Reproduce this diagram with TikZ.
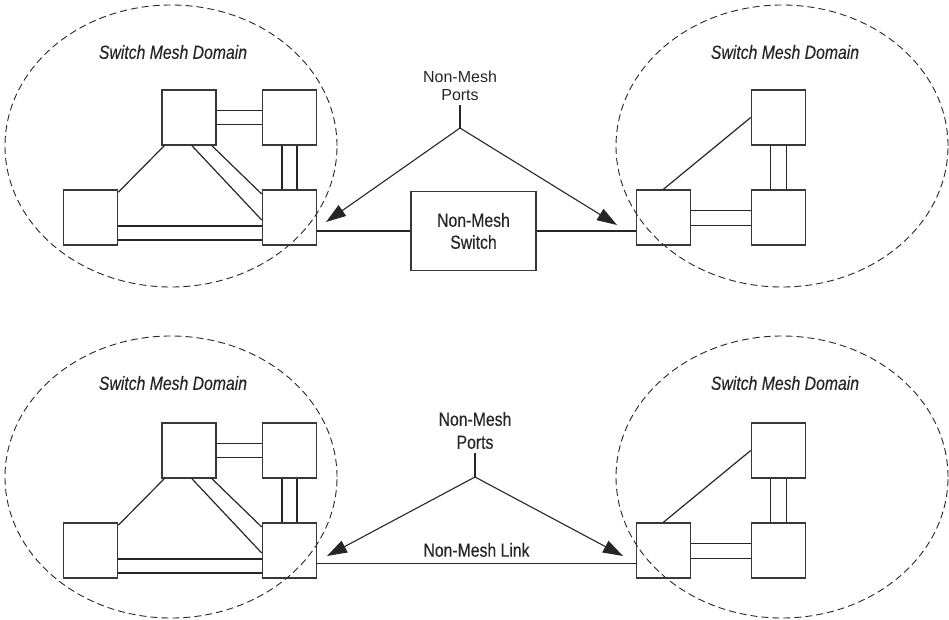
\documentclass[tikz,border=0pt]{standalone}
\usepackage{fontspec}
\setmainfont{Liberation Sans}
\newfontfamily\condfont[FakeStretch=0.83, FakeBold=0.3]{Liberation Sans}
\usetikzlibrary{arrows.meta, positioning, shapes.geometric, calc}
\definecolor{cInk}{HTML}{262626}
\definecolor{cLine}{HTML}{383838}

\begin{document}
\begin{tikzpicture}[
    x=1pt, y=-1pt,
    font=\condfont\fontsize{19}{22}\selectfont,
    sw/.style={draw=cLine, line width=1.6pt, minimum width=54pt,
               minimum height=55pt, inner sep=0pt},
    nmsw/.style={draw=cLine, line width=1.6pt, minimum width=125pt,
                 minimum height=79pt, align=center, text=cInk,
                 font=\condfont\fontsize{19}{22}\selectfont},
    mesh/.style={ellipse, draw=cInk, dash pattern=on 7pt off 4pt,
                 line width=0.9pt, minimum width=332pt,
                 minimum height=282pt, inner sep=0pt},
    domlbl/.style={font=\condfont\fontsize{19}{22}\selectfont\itshape,
                   text=cInk},
    lbl/.style={align=center, text=cInk, inner sep=4pt},
    cab/.style={draw=cInk, line width=1.2pt},
    arr/.style={-{Triangle[length=20pt,width=13pt]}, draw=cInk,
                line width=1.1pt},
]
\useasboundingbox (0,0) rectangle (949,620);

% ================================================================
%  TOP: two mesh domains joined through a non-mesh switch
% ================================================================

\node[mesh] (tlmesh) at (171,146) {};
\node[mesh] (trmesh) at (782,146) {};
\node[domlbl] (tldom) at (173,52) {Switch Mesh Domain};
\node[domlbl] (trdom) at (785,52) {Switch Mesh Domain};

% left domain
\node[sw] (ta) at (189,117.5) {};
\node[sw] (tb) at (289.5,117.5) {};
\node[sw] (tc) at (90.5,217.5) {};
\node[sw] (td) at (289.5,217.5) {};

\draw[cab] ([yshift=7pt]ta.east) -- ([yshift=7pt]tb.west);
\draw[cab] ([yshift=-7pt]ta.east) -- ([yshift=-7pt]tb.west);
\draw[cab] ([xshift=-7.5pt]tb.south) -- ([xshift=-7.5pt]td.north);
\draw[cab] ([xshift=7.5pt]tb.south) -- ([xshift=7.5pt]td.north);
\draw[cab] ([yshift=-8.5pt]tc.east) -- ([yshift=-8.5pt]td.west);
\draw[cab] ([yshift=-22.5pt]tc.east) -- ([yshift=-22.5pt]td.west);
\draw[cab] ([xshift=3pt]ta.south) -- ([yshift=-2.5pt]td.west);
\draw[cab] ([xshift=23pt]ta.south) -- ([yshift=23.5pt]td.west);
\draw[cab] ([xshift=3pt]ta.south west) -- ([yshift=-3pt]tc.north east);

% right domain
\node[sw] (te) at (778.5,117.5) {};
\node[sw] (tf) at (663.5,217.5) {};
\node[sw] (tg) at (778.5,217.5) {};

\draw[cab] (te.west) -- (tf.north);
\draw[cab] ([xshift=-8pt]te.south) -- ([xshift=-8pt]tg.north);
\draw[cab] ([xshift=8pt]te.south) -- ([xshift=8pt]tg.north);
\draw[cab] ([yshift=7pt]tf.east) -- ([yshift=7pt]tg.west);
\draw[cab] ([yshift=-8pt]tf.east) -- ([yshift=-8pt]tg.west);

% non-mesh switch
\node[nmsw] (tnms) at (473.5,231) {Non-Mesh\\Switch};
\draw[cab] (tnms.west -| td.east) -- (tnms.west);
\draw[cab] (tnms.east) -- (tnms.east -| tf.west);

% non-mesh ports callout
\node[lbl, font=\rmfamily\fontsize{16}{17.5}\selectfont] (tports)
    at (460,86) {Non-Mesh\\Ports};
\coordinate (tfork) at (460,128);
\coordinate (tpl) at (326,222);
\coordinate (tpr) at (617,225);
\draw[cab, line width=1.6pt] (tports.south) -- (tfork);
\draw[arr] (tfork) -- (tpl);
\draw[arr] (tfork) -- (tpr);

% ================================================================
%  BOTTOM: two mesh domains joined by a direct non-mesh link
% ================================================================

\node[mesh] (blmesh) at (171,477) {};
\node[mesh] (brmesh) at (782,477) {};
\node[domlbl] (bldom) at (173,383) {Switch Mesh Domain};
\node[domlbl] (brdom) at (785,383) {Switch Mesh Domain};

% left domain
\node[sw] (ba) at (189,450.5) {};
\node[sw] (bb) at (289.5,450.5) {};
\node[sw] (bc) at (90.5,550.5) {};
\node[sw] (bd) at (289.5,550.5) {};

\draw[cab] ([yshift=7pt]ba.east) -- ([yshift=7pt]bb.west);
\draw[cab] ([yshift=-7pt]ba.east) -- ([yshift=-7pt]bb.west);
\draw[cab] ([xshift=-7.5pt]bb.south) -- ([xshift=-7.5pt]bd.north);
\draw[cab] ([xshift=7.5pt]bb.south) -- ([xshift=7.5pt]bd.north);
\draw[cab] ([yshift=-8.5pt]bc.east) -- ([yshift=-8.5pt]bd.west);
\draw[cab] ([yshift=-22.5pt]bc.east) -- ([yshift=-22.5pt]bd.west);
\draw[cab] ([xshift=3pt]ba.south) -- ([yshift=-2.5pt]bd.west);
\draw[cab] ([xshift=23pt]ba.south) -- ([yshift=23.5pt]bd.west);
\draw[cab] ([xshift=3pt]ba.south west) -- ([yshift=-3pt]bc.north east);

% right domain
\node[sw] (be) at (778.5,450.5) {};
\node[sw] (bf) at (663.5,550.5) {};
\node[sw] (bg) at (778.5,550.5) {};

\draw[cab] (be.west) -- (bf.north);
\draw[cab] ([xshift=-8pt]be.south) -- ([xshift=-8pt]bg.north);
\draw[cab] ([xshift=8pt]be.south) -- ([xshift=8pt]bg.north);
\draw[cab] ([yshift=7pt]bf.east) -- ([yshift=7pt]bg.west);
\draw[cab] ([yshift=-8pt]bf.east) -- ([yshift=-8pt]bg.west);

% non-mesh link
\draw[cab] ([yshift=-13pt]bd.east) -- ([yshift=-13pt]bf.west)
    node[midway, above=2pt, lbl] (blink) {Non-Mesh Link};

% non-mesh ports callout
\node[lbl, font=\condfont\fontsize{19}{23}\selectfont] (bports)
    at (475,430.5) {Non-Mesh\\Ports};
\coordinate (bfork) at (475,477);
\coordinate (bpl) at (327,556);
\coordinate (bpr) at (623,556);
\draw[cab] (bports.south) -- (bfork);
\draw[arr] (bfork) -- (bpl);
\draw[arr] (bfork) -- (bpr);

\end{tikzpicture}
\end{document}
